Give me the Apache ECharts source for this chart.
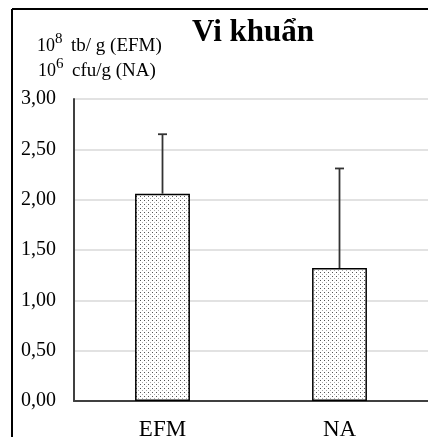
<!DOCTYPE html>
<html>
<head>
<meta charset="utf-8">
<script src="https://cdn.jsdelivr.net/npm/echarts@6/dist/echarts.min.js"></script>
<style>
html, body { margin: 0; padding: 0; background: #fff; }
#chart1 { width: 428px; height: 437px; }
</style>
</head>
<body>
<div id="chart1"></div>
<script>
var categories = ['EFM', 'NA'];
var means = [2.06, 1.32];
var errors = [0.59, 0.99];
var yTicks = [0, 0.5, 1, 1.5, 2, 2.5, 3];

// dotted fill like the original
var dots = document.createElement('canvas');
dots.width = 4; dots.height = 4;
var ctx = dots.getContext('2d');
ctx.fillStyle = '#fff';
ctx.fillRect(0, 0, 4, 4);
ctx.fillStyle = '#555';
ctx.fillRect(0, 0, 1, 1);
ctx.fillStyle = '#aaa';
ctx.fillRect(2, 2, 1, 1);

var myChart1 = echarts.init(document.getElementById('chart1'));
var serif = '"Liberation Serif", "DejaVu Serif", serif';

function txt(x, y, s, size) {
    return { type: 'text', left: x, top: y, style: { text: s, fontFamily: serif, fontSize: size, fill: '#000' } };
}

myChart1.setOption({
    animation: false,
    title: {
        text: 'Vi khuẩn',
        left: 187,
        top: 12,
        textStyle: { fontFamily: serif, fontSize: 31, fontWeight: 'bold', color: '#000' }
    },
    grid: { left: 74, right: 0, top: 99, bottom: 36, outerBoundsMode: 'none', containLabel: false },
    xAxis: {
        type: 'category',
        data: categories,
        axisTick: { show: false },
        axisLine: { lineStyle: { color: '#404040', width: 2 } },
        axisLabel: { fontFamily: serif, fontSize: 23, color: '#000', margin: 17 }
    },
    yAxis: {
        type: 'value',
        min: 0,
        max: 3,
        interval: 0.5,
        axisLine: { show: true, lineStyle: { color: '#404040', width: 2 } },
        axisTick: { show: false },
        splitLine: { lineStyle: { color: '#d9d9d9', width: 1.5 } },
        axisLabel: {
            fontFamily: serif, fontSize: 20, color: '#000', margin: 18,
            formatter: function (v) { return v.toFixed(2).replace('.', ','); }
        }
    },
    graphic: [
        { type: 'line', shape: { x1: 12, y1: 9, x2: 428, y2: 9 }, style: { stroke: '#000', lineWidth: 2 } },
        { type: 'line', shape: { x1: 12, y1: 9, x2: 12, y2: 437 }, style: { stroke: '#000', lineWidth: 2 } },
        txt(37, 37, '10', 18),
        txt(55, 32, '8', 15),
        txt(71, 37, 'tb/ g (EFM)', 19),
        txt(38, 62, '10', 18),
        txt(56, 57, '6', 15),
        txt(72, 62, 'cfu/g (NA)', 19)
    ],
    series: [
        {
            type: 'bar',
            data: means,
            barWidth: '31%',
            itemStyle: {
                color: { image: dots, repeat: 'repeat' },
                borderColor: '#000',
                borderWidth: 1.5
            }
        },
        {
            type: 'custom',
            data: means.map(function (m, i) { return [i, m, m + errors[i]]; }),
            z: 1,
            renderItem: function (params, api) {
                var lo = api.coord([api.value(0), api.value(1)]);
                var hi = api.coord([api.value(0), api.value(2)]);
                return {
                    type: 'group',
                    children: [
                        { type: 'line', shape: { x1: lo[0], y1: lo[1], x2: hi[0], y2: hi[1] }, style: { stroke: '#333', lineWidth: 1.8 } },
                        { type: 'line', shape: { x1: hi[0] - 4.5, y1: hi[1], x2: hi[0] + 4.5, y2: hi[1] }, style: { stroke: '#333', lineWidth: 1.8 } }
                    ]
                };
            }
        }
    ]
});
</script>
</body>
</html>
